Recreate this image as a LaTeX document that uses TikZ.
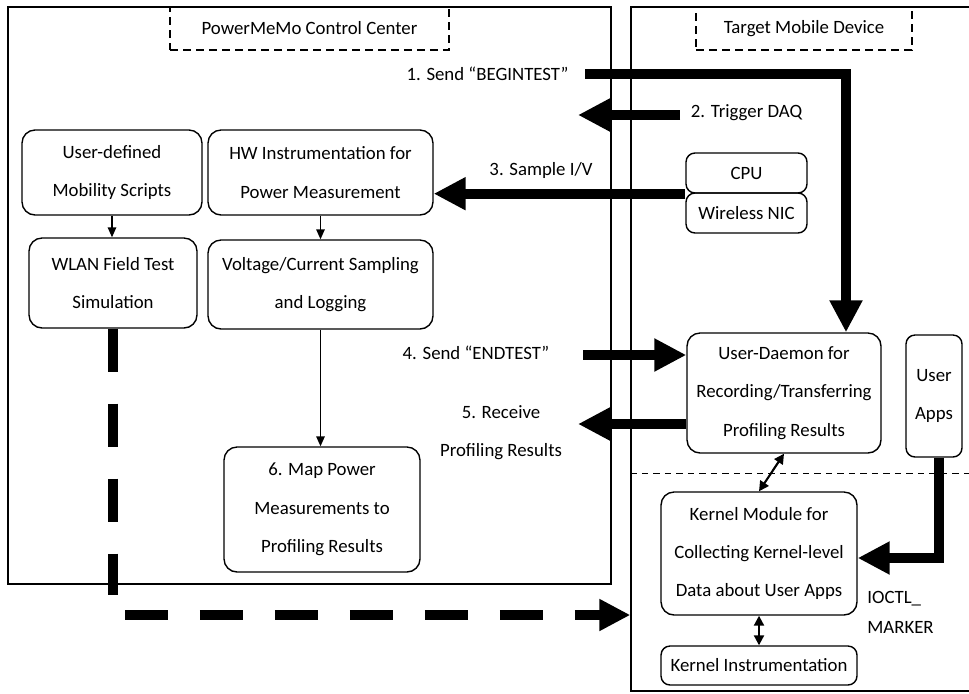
\documentclass[tikz,border=0pt]{standalone}
\usepackage{fontspec}
\setmainfont{Carlito}
\usetikzlibrary{arrows.meta}

\begin{document}
\begin{tikzpicture}[x=0.02cm, y=-0.02cm,
  box/.style={draw, line width=0.8pt, rounded corners=0.26cm, align=center, inner sep=0pt, font=\fontsize{10.7}{21.8}\selectfont},
  smallbox/.style={box, rounded corners=0.18cm},
  outerbox/.style={draw, line width=0.8pt, inner sep=0pt},
  titlebox/.style={draw, line width=0.8pt, dash pattern=on 0.16cm off 0.1cm, inner sep=0pt, font=\fontsize{10.7}{21.8}\selectfont},
  lbl/.style={inner sep=0pt, align=center, font=\fontsize{10.7}{21.8}\selectfont},
  bigarrow/.style={line width=0.2cm, -{Triangle[length=0.64cm,width=0.62cm]}},
  thinarrow/.style={line width=0.8pt, -{Triangle[length=0.2cm,width=0.17cm]}},
  dblarrow/.style={line width=1.2pt, {Triangle[length=0.2cm,width=0.2cm]}-{Triangle[length=0.2cm,width=0.2cm]}},
  dasharrow/.style={line width=0.2cm, dash pattern=on 0.86cm off 0.64cm},
]
\useasboundingbox (0,0) rectangle (969,693);
% Two sides
\node[outerbox, minimum width=12.06cm, minimum height=11.54cm] (ctrlbox) at (309.5,295.5) {};
\node[outerbox, minimum width=7.38cm, minimum height=13.68cm] (devbox) at (815.5,349) {};
\node[titlebox, minimum width=5.58cm, minimum height=0.86cm] (ctrltitle) at (309.5,28.5) {PowerMeMo Control Center};
\node[titlebox, minimum width=4.32cm, minimum height=0.86cm] (devtitle) at (804,28.5) {Target Mobile Device};
\draw[line width=0.5pt, dash pattern=on 0.13cm off 0.1cm] (devbox.west |- 0,473) -- (975,473);
% Control center blocks
\node[box, minimum width=3.6cm, minimum height=1.7cm] (userdef) at (112,172.5) {User-defined\\Mobility Scripts};
\node[box, minimum width=4.5cm, minimum height=1.7cm] (hw) at (320.5,172.5) {HW Instrumentation for\\Power Measurement};
\node[box, minimum width=3.36cm, minimum height=1.8cm] (wlan) at (113,283) {WLAN Field Test\\Simulation};
\node[box, minimum width=4.5cm, minimum height=1.78cm] (volt) at (320.5,284.5) {Voltage/Current Sampling\\and Logging};
\node[box, minimum width=3.92cm, minimum height=2.5cm] (mapres) at (322,509.5) {6. Map Power\\Measurements to\\Profiling Results};
% Device blocks
\node[smallbox, minimum width=2.42cm, minimum height=0.8cm] (cpu) at (746.5,173) {CPU};
\node[smallbox, minimum width=2.42cm, minimum height=0.8cm] (nic) at (746.5,213) {Wireless NIC};
\node[box, minimum width=3.88cm, minimum height=2.4cm] (daemon) at (784,393) {User-Daemon for\\Recording/Transferring\\Profiling Results};
\node[smallbox, minimum width=1.12cm, minimum height=2.44cm] (apps) at (934,396) {User\\Apps};
\node[box, minimum width=3.92cm, minimum height=2.46cm] (kmod) at (759,553.5) {Kernel Module for\\Collecting Kernel-level\\Data about User Apps};
\node[smallbox, minimum width=3.92cm, minimum height=0.78cm] (kinst) at (759,665.5) {Kernel Instrumentation};
% Step labels
\node[lbl] (l1) at (487.5,74) {1. Send “BEGINTEST”};
\node[lbl] (l2) at (746.5,113) {2. Trigger DAQ};
\node[lbl] (l3) at (541,170) {3. Sample I/V};
\node[lbl] (l4) at (476,353) {4. Send “ENDTEST”};
\node[lbl] (l5) at (501,432.5) {5. Receive\\Profiling Results};
\node[lbl, align=left, anchor=west, font=\fontsize{10.7}{17}\selectfont] (ioctl) at (867,612) {IOCTL\_\\MARKER};
% Free ends of the big arrows
\coordinate (s1) at (585,74);
\coordinate (c1) at (846,74);
\coordinate (s2) at (680,115);
\coordinate (t2) at (578,115);
\coordinate (s4) at (583,355);
\coordinate (t5) at (578,424);
\coordinate (d1) at (113,595);
\coordinate (d2) at (125,615);
% Big arrows
\draw[bigarrow] (s1) -- (c1) -- (c1 |- daemon.north);
\draw[bigarrow] (s2) -- (t2);
\draw[bigarrow] (cpu.south west) -- (cpu.south west -| hw.east);
\draw[bigarrow] (s4) -- (s4 -| daemon.west);
\draw[bigarrow] (t5 -| daemon.west) -- (t5);
\draw[bigarrow] ([xshift=0.1cm]apps.south) |- ([yshift=-0.09cm]kmod.east);
\draw[dasharrow] (wlan.south) -- (d1);
\draw[dasharrow, -{Triangle[length=0.62cm,width=0.6cm]}] (d2) -- (d2 -| devbox.west);
% Thin arrows
\draw[thinarrow] (userdef.south) -- (userdef.south |- wlan.north);
\draw[thinarrow] (hw.south) -- (volt.north);
\draw[thinarrow] (volt.south) -- (volt.south |- mapres.north);
\draw[dblarrow] (daemon.south) -- (kmod.north);
\draw[dblarrow] (kmod.south) -- (kinst.north);
\end{tikzpicture}
\end{document}
